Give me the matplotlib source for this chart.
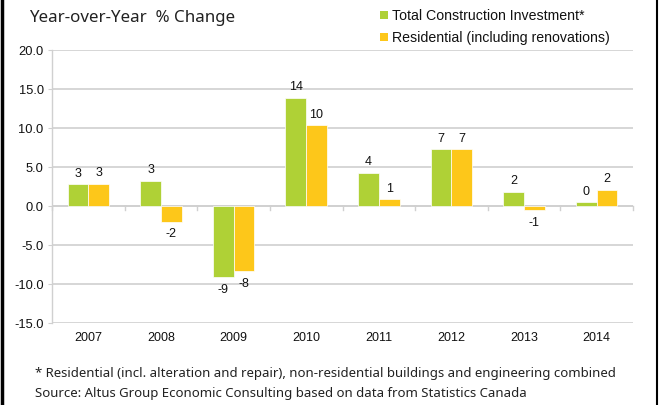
import matplotlib
matplotlib.use("Agg")
import matplotlib.pyplot as plt
import numpy as np
from matplotlib.patches import Rectangle
from matplotlib.lines import Line2D

years = ["2007", "2008", "2009", "2010", "2011", "2012", "2013", "2014"]
total_construction = [2.7, 3.2, -9.2, 13.8, 4.2, 7.2, 1.75, 0.4]
residential = [2.8, -2.1, -8.4, 10.3, 0.8, 7.2, -0.6, 2.0]
total_labels = ["3", "3", "-9", "14", "4", "7", "2", "0"]
res_labels = ["3", "-2", "-8", "10", "1", "7", "-1", "2"]
yticks = [-15, -10, -5, 0, 5, 10, 15, 20]

GREEN = "#AFD136"
YELLOW = "#FDC71A"
GRID = "#D0D0D0"

W, H = 659, 406
fig = plt.figure(figsize=(W / 100, H / 100), dpi=100)
fig.patch.set_facecolor("white")

l, r, t, b = 52, 633, 50.5, 323.5
ax = fig.add_axes([l / W, 1 - b / H, (r - l) / W, (b - t) / H])

x = np.arange(len(years))
bw = 0.285
ax.bar(x - bw / 2, total_construction, bw, color=GREEN, edgecolor="white", linewidth=0.5, zorder=3)
ax.bar(x + bw / 2, residential, bw, color=YELLOW, edgecolor="white", linewidth=0.5, zorder=3)

ax.set_xlim(-0.5, len(years) - 0.5)
ax.set_ylim(-15, 20)
ax.set_yticks(yticks)
ax.set_yticklabels([f"{v:.1f}" for v in yticks], fontsize=9.3, family="Liberation Sans", color="#111111")
ax.yaxis.grid(True, color=GRID, linewidth=1.2, zorder=0)
ax.set_xticks([])
for s in ["top", "right", "bottom"]:
    ax.spines[s].set_visible(False)
ax.spines["left"].set_color(GRID)
ax.spines["left"].set_linewidth(1.0)
ax.tick_params(axis="y", length=3, color=GRID, pad=3)

# zero axis line with category-boundary ticks
ax.axhline(0, color=GRID, linewidth=1.2, zorder=2)
for k in range(len(years) + 1):
    ax.plot([k - 0.5, k - 0.5], [0, -0.6], color=GRID, linewidth=1.0, zorder=2, clip_on=False)

# year labels
for i, yr in enumerate(years):
    ax.annotate(yr, (i, -15), xytext=(0, -10.5), textcoords="offset points",
                ha="center", va="center", fontsize=9, family="Liberation Sans", color="#111111")

def put_labels(xs, vals, labs):
    for xi, v, s in zip(xs, vals, labs):
        if v >= 0:
            ax.annotate(s, (xi, v), xytext=(0, 4), textcoords="offset points",
                        ha="center", va="bottom", fontsize=9, family="Liberation Sans", color="#111111")
        else:
            ax.annotate(s, (xi, v), xytext=(0, -4), textcoords="offset points",
                        ha="center", va="top", fontsize=9, family="Liberation Sans", color="#111111")

put_labels(x - bw / 2, total_construction, total_labels)
put_labels(x + bw / 2, residential, res_labels)

# title
fig.text(29 / W, 1 - 18 / H, "Year-over-Year  % Change", ha="left", va="center",
         fontsize=12.2, family="Noto Sans", color="#222222")

# legend
for yy, col, lab in [(15.7, GREEN, "Total Construction Investment*"),
                     (37.7, YELLOW, "Residential (including renovations)")]:
    fig.patches.append(Rectangle((380 / W, 1 - (yy + 4) / H), 8 / W, 8 / H,
                                 transform=fig.transFigure, facecolor=col, edgecolor="none"))
    fig.text(392 / W, 1 - yy / H, lab, ha="left", va="center", fontsize=10.2,
             family="Liberation Sans", color="#111111")

# footnotes
fig.text(35 / W, 1 - 374 / H,
         "* Residential (incl. alteration and repair), non-residential buildings and engineering combined",
         ha="left", va="center", fontsize=9.5, family="Noto Sans", color="#222222")
fig.text(35 / W, 1 - 394 / H,
         "Source: Altus Group Economic Consulting based on data from Statistics Canada",
         ha="left", va="center", fontsize=9.5, family="Noto Sans", color="#222222")

# borders
fig.lines.append(Line2D([1.5 / W, 1.5 / W], [0, 1], transform=fig.transFigure, color="black", linewidth=2.5))
fig.lines.append(Line2D([656.5 / W, 656.5 / W], [0, 1], transform=fig.transFigure, color="black", linewidth=1.5))

fig.savefig("out.png", dpi=100, facecolor="white")
